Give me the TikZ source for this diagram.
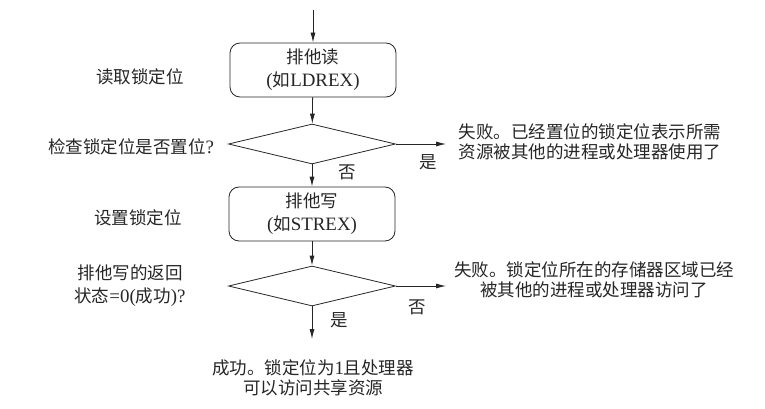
\documentclass[tikz,border=0pt]{standalone}
\usepackage{fontspec}
\setmainfont[Scale=1.08]{Liberation Serif}
\newfontfamily\cjk{Noto Sans CJK SC}
\newcommand{\zh}[1]{{\cjk #1}}
\usetikzlibrary{shapes.geometric,arrows.meta}
\begin{document}
\begin{tikzpicture}[x=1pt,y=-1pt, line width=0.8pt,
  every node/.style={text=black!85},
  txt/.style={font=\fontsize{17.5pt}{20pt}\selectfont, align=center, inner sep=0pt},
  proc/.style={draw=black!85, rounded corners=10pt, minimum width=166pt, minimum height=54pt,
     align=center, inner sep=0pt, font=\fontsize{17.5pt}{23pt}\selectfont},
  dec/.style={draw=black!85, diamond, minimum width=167pt, minimum height=40pt, inner sep=0pt},
  flow/.style={-{Latex[length=10pt,width=5pt]}, draw=black!85}]
\useasboundingbox (0,0) rectangle (765,409);
% flow chart
\coordinate (start) at (313,10);
\node[proc] (b1) at (313,70) {\zh{排他读}\\(\zh{如}LDREX)};
\node[dec] (d1) at (312,144) {};
\node[proc] (b2) at (312,214) {\zh{排他写}\\(\zh{如}STREX)};
\node[dec] (d2) at (312,286) {};
\coordinate (e1) at (446,144);
\coordinate (e2) at (446,286);
\coordinate (e3) at (312,339);
\draw[flow] (start) -- (b1);
\draw[flow] (b1) -- (d1);
\draw[flow] (d1) -- (b2);
\draw[flow] (b2) -- (d2);
\draw[flow] (d1.east) -- (e1);
\draw[flow] (d2.east) -- (e2);
\draw[flow] (d2.south) -- (e3);
% branch labels
\node[txt] (y1) at (428,162) {\zh{是}};
\node[txt] (n1) at (347,172) {\zh{否}};
\node[txt] (n2) at (417,307) {\zh{否}};
\node[txt] (y2) at (339,320) {\zh{是}};
% outcomes
\node[txt] (r1) at (590,142) {\zh{失败。已经置位的锁定位表示所需}\\\zh{资源被其他的进程或处理器使用了}};
\node[txt] (r2) at (594,280) {\zh{失败。锁定位所在的存储器区域已经}\\\zh{被其他的进程或处理器访问了}};
\node[txt] (ok) at (313,378) {\zh{成功。锁定位为}1\zh{且处理器}\\\zh{可以访问共享资源}};
% step descriptions
\node[txt] (s1) at (140,77) {\zh{读取锁定位}};
\node[txt] (s2) at (131,147) {\zh{检查锁定位是否置位}?};
\node[txt] (s3) at (138,218) {\zh{设置锁定位}};
\node[txt, font=\fontsize{17.5pt}{23pt}\selectfont] (s4) at (130,286) {\zh{排他写的返回}\\\zh{状态}=0(\zh{成功})?};
\end{tikzpicture}
\end{document}
